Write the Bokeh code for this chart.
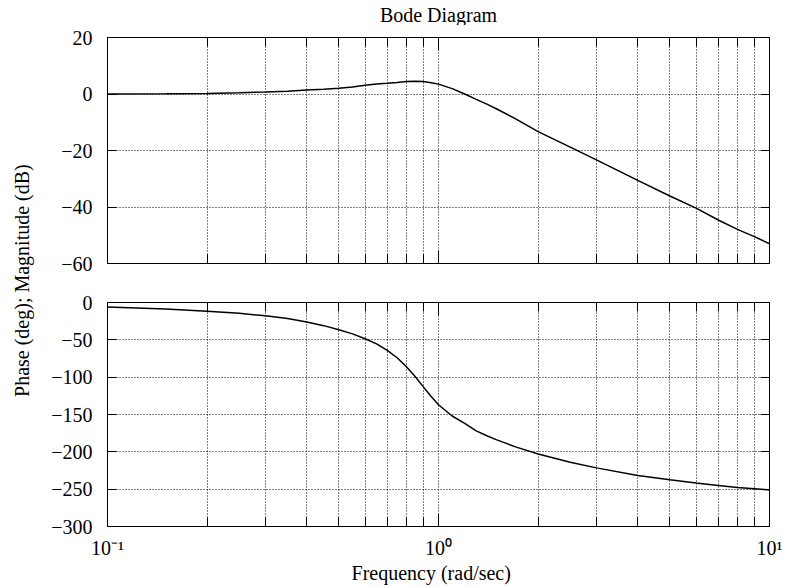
from bokeh.plotting import figure
from bokeh.models import (LogAxis, LinearAxis, FixedTicker, Range1d, Label,
                          CustomJSTickFormatter, ColumnDataSource)
from bokeh.layouts import row, column
from bokeh.embed import file_html
from bokeh.resources import INLINE

# ---------------- data ----------------
freq = [0.1, 0.15, 0.2, 0.25, 0.3, 0.35, 0.4, 0.45, 0.5, 0.55, 0.6, 0.65,
        0.7, 0.75, 0.8, 0.85, 0.9, 0.95, 1.0, 1.1, 1.2, 1.3, 1.4, 1.5, 1.7,
        2.0, 2.5, 3.0, 4.0, 5.0, 6.0, 7.0, 8.0, 9.0, 10.0]
mag_db = [0.0, 0.1, 0.2, 0.45, 0.7, 1.0, 1.4, 1.7, 2.0, 2.5, 3.1, 3.5,
          3.8, 4.1, 4.4, 4.5, 4.4, 4.0, 3.5, 1.9, 0.0, -1.9, -3.6, -5.3,
          -8.6, -13.3, -18.8, -23.3, -30.6, -36.1, -40.4, -44.6, -47.9,
          -50.5, -53.0]
phase_deg = [-6.0, -8.8, -11.8, -14.5, -17.8, -21.5, -26.0, -31.0, -36.5,
             -42.0, -48.5, -55.5, -64.0, -74.0, -86.0, -99.0, -113.0,
             -126.0, -137.0, -152.0, -162.0, -172.0, -178.5, -184.0, -193.0,
             -203.0, -214.0, -221.5, -231.8, -237.5, -241.9, -245.0, -247.7,
             -249.4, -251.0]

x_ticks = [0.1, 1.0, 10.0]
x_tick_labels = ["10\u207b\u00b9", "10\u2070", "10\u00b9"]
x_minor_ticks = [0.2, 0.3, 0.4, 0.5, 0.6, 0.7, 0.8, 0.9,
                 2.0, 3.0, 4.0, 5.0, 6.0, 7.0, 8.0, 9.0]
mag_ticks = [20, 0, -20, -40, -60]
mag_tick_labels = ["20", "0", "\u221220", "\u221240", "\u221260"]
phase_ticks = [0, -50, -100, -150, -200, -250, -300]
phase_tick_labels = ["0", "\u221250", "\u2212100", "\u2212150", "\u2212200",
                     "\u2212250", "\u2212300"]

title_text = "Bode Diagram"
x_label = "Frequency (rad/sec)"
y_label = "Phase (deg); Magnitude (dB)"

# ---------------- style / layout ----------------
FONT = "Liberation Serif"
FS = "20px"
LABEL_W = 48
W = 738
H_TITLE = 25
H1 = 258
H2 = 278
H_XLAB = 25
TOTAL_H = H_TITLE + H1 + H2 + H_XLAB
GRID_COLOR = "#000000"
GRID_DASH = "1 2"

src = ColumnDataSource(dict(freq=freq, mag=mag_db, phase=phase_deg))
x_range = Range1d(0.1, 10)


def blank_formatter():
    return CustomJSTickFormatter(code="return ''")


def style_axis(ax, ticker, labels, show, major_in, minor_in):
    ax.ticker = ticker
    ax.axis_line_color = "black"
    ax.major_tick_line_color = "black"
    ax.minor_tick_line_color = "black"
    ax.major_tick_out = 0
    ax.major_tick_in = major_in
    ax.minor_tick_out = 0
    ax.minor_tick_in = minor_in
    if show:
        ax.major_label_overrides = labels
        ax.major_label_text_font = FONT
        ax.major_label_text_font_size = FS
        ax.major_label_text_color = "black"
    else:
        ax.formatter = blank_formatter()
        ax.major_label_text_font_size = "0px"
        ax.major_label_standoff = 0


def make_panel(height, yr, yticks, ylabels, ycol, top, bottom, show_x):
    p = figure(width=W, height=height, x_axis_type="log", x_range=x_range,
               y_range=Range1d(*yr), output_backend="svg",
               toolbar_location=None, min_border_left=49,
               min_border_right=17, min_border_top=top,
               min_border_bottom=bottom)
    p.background_fill_color = "white"
    p.border_fill_color = "white"
    p.outline_line_color = "black"
    p.outline_line_width = 1

    xt = FixedTicker(ticks=x_ticks, minor_ticks=x_minor_ticks)
    yt = FixedTicker(ticks=yticks)
    xlab = dict(zip(x_ticks, x_tick_labels))
    ylab = dict(zip(yticks, ylabels))

    bottom_ax = p.below[0]
    left_ax = p.left[0]
    style_axis(bottom_ax, xt, xlab, show_x, 13, 9)
    style_axis(left_ax, yt, ylab, True, 9, 0)
    left_ax.major_label_standoff = 15
    bottom_ax.major_label_standoff = 10 if show_x else 0

    top_ax = LogAxis()
    style_axis(top_ax, FixedTicker(ticks=x_ticks, minor_ticks=x_minor_ticks),
               xlab, False, 13, 9)
    p.add_layout(top_ax, "above")
    right_ax = LinearAxis()
    style_axis(right_ax, FixedTicker(ticks=yticks), ylab, False, 9, 0)
    p.add_layout(right_ax, "right")

    p.xgrid.ticker = xt
    p.ygrid.ticker = yt
    for g in (p.xgrid[0], p.ygrid[0]):
        g.grid_line_color = GRID_COLOR
        g.grid_line_dash = GRID_DASH
        g.grid_line_width = 1
    p.xgrid.minor_grid_line_color = GRID_COLOR
    p.xgrid.minor_grid_line_dash = GRID_DASH
    p.xgrid.minor_grid_line_width = 1

    p.line("freq", ycol, source=src, line_color="black", line_width=1.5)
    return p


def text_strip(width, height, text, x, y, angle=0.0):
    f = figure(width=width, height=height, x_range=Range1d(0, 1),
               y_range=Range1d(0, 1), output_backend="svg",
               toolbar_location=None, min_border=0, title=None,
               x_axis_location=None, y_axis_location=None)
    f.grid.visible = False
    f.outline_line_color = None
    f.background_fill_color = "white"
    f.border_fill_color = "white"
    f.add_layout(Label(x=x, y=y, text=text, angle=angle,
                       text_align="center", text_baseline="middle",
                       text_font=FONT, text_font_size=FS,
                       text_color="black"))
    return f


p1 = make_panel(H1, (-60, 20), mag_ticks, mag_tick_labels, "mag", 12, 20,
                False)
p2 = make_panel(H2, (-300, 0), phase_ticks, phase_tick_labels, "phase", 19,
                33, True)

title_fig = text_strip(W, H_TITLE, title_text, 0.500, 0.44)
xlab_fig = text_strip(W, H_XLAB, x_label, 0.489, 0.56)
ylab_fig = text_strip(LABEL_W, TOTAL_H, y_label, 0.458, 0.522,
                      angle=1.5707963)

layout = row(ylab_fig, column(title_fig, p1, p2, xlab_fig))
open("out.html", "w").write(file_html(layout, INLINE))
